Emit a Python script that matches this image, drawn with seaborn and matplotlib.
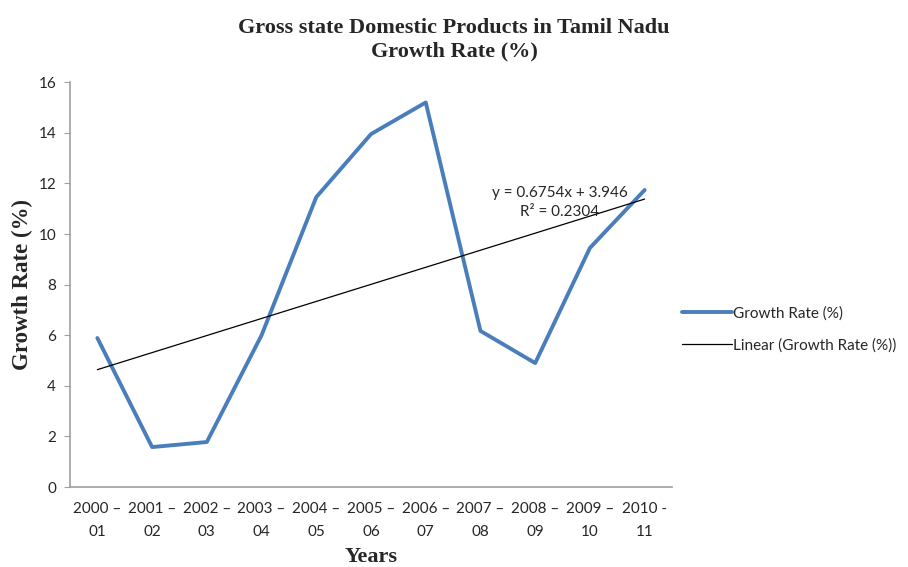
import numpy as np
import pandas as pd
import seaborn as sns
import matplotlib
matplotlib.use("Agg")
import matplotlib.pyplot as plt

years = ["2000 –\n01", "2001 –\n02", "2002 –\n03", "2003 –\n04", "2004 –\n05",
         "2005 –\n06", "2006 –\n07", "2007 –\n08", "2008 –\n09", "2009 –\n10", "2010 -\n11"]
growth = [5.89, 1.58, 1.78, 6.0, 11.46, 13.95, 15.2, 6.17, 4.9, 9.45, 11.74]
y_ticks = [0, 2, 4, 6, 8, 10, 12, 14, 16]
equation_text = "y = 0.6754x + 3.946\nR² = 0.2304"

sns.set_theme(style="white")
plt.rcParams['font.family'] = ['Lato', 'DejaVu Sans']

df = pd.DataFrame({"pos": np.arange(len(years)), "year": years, "growth": growth})
slope, intercept = np.polyfit(df["pos"] + 1, df["growth"], 1)
df["trend"] = slope * (df["pos"] + 1) + intercept

fig = plt.figure(figsize=(9.08, 5.67), dpi=100)
ax = fig.add_axes([0.0771, 0.141, 0.663, 0.714])

sns.lineplot(data=df, x="pos", y="growth", ax=ax, color="#4a7ebb", linewidth=2.8,
             label="Growth Rate (%)")
sns.lineplot(data=df, x="pos", y="trend", ax=ax, color="black", linewidth=0.9,
             label="Linear (Growth Rate (%))")

ax.set_xlim(-0.5, len(years) - 0.5)
ax.set_ylim(0, 16)
ax.set_yticks(y_ticks)
ax.set_yticklabels([str(t) for t in y_ticks], fontsize=11)
ax.set_xticks(df["pos"])
ax.set_xticklabels(years, fontsize=11, linespacing=1.75)
ax.tick_params(axis="y", length=4, width=0.8, color="#a0a0a0", direction="out", pad=6, left=True)
ax.tick_params(axis="x", length=0, pad=11)

for s in ["top", "right"]:
    ax.spines[s].set_visible(False)
for s in ["left", "bottom"]:
    ax.spines[s].set_color("#a0a0a0")
    ax.spines[s].set_linewidth(1.2)

ax.set_xlabel("Years", fontsize=16, fontweight="bold", family="Liberation Serif", labelpad=6)
ax.set_ylabel("Growth Rate (%)", fontsize=16.5, fontweight="bold", family="Liberation Serif", labelpad=4)

fig.text(0.5, 0.892, "Gross state Domestic Products in Tamil Nadu\nGrowth Rate (%)",
         ha="center", va="bottom", fontsize=16, fontweight="bold",
         family="Liberation Serif", linespacing=1.2)

ax.text(8.45, 10.6, equation_text, ha="center", va="bottom", fontsize=11, linespacing=1.45)

leg = ax.legend(loc="center left", bbox_to_anchor=(0.993, 0.39), frameon=False,
                fontsize=11, handlelength=3.3, handletextpad=0.05, labelspacing=1.15)

fig.savefig("out.png", dpi=100)
